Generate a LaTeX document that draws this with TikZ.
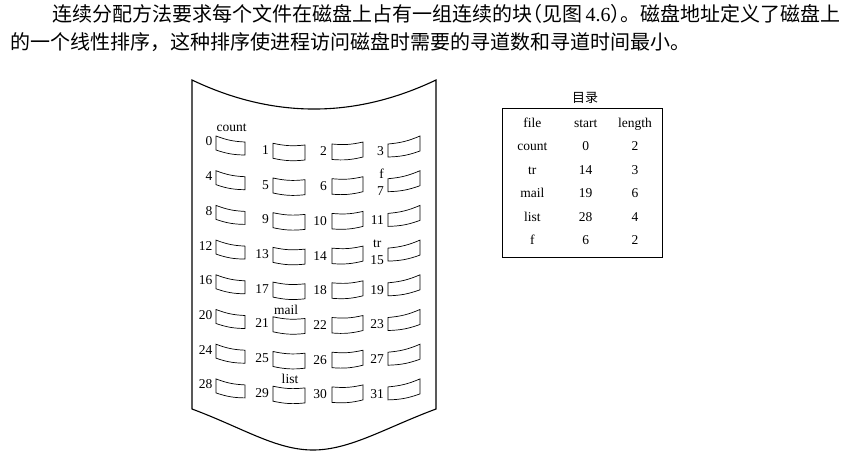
\documentclass[tikz,border=0pt]{standalone}
\usepackage{fontspec}
\setmainfont{Liberation Serif}
\newfontfamily\cjk{Noto Sans CJK SC}
\begin{document}
\begin{tikzpicture}[x=1pt,y=-1pt,
  blk/.style={draw,line width=0.7pt},
  lbl/.style={font=\fontsize{13.5}{13.5}\selectfont,inner sep=0pt},
  cell/.style={font=\fontsize{13.5}{13.5}\selectfont,inner sep=0pt,text height=9pt,text depth=2.8pt},
  para/.style={font=\cjk\fontsize{20}{20}\selectfont,inner sep=0pt,anchor=base west}]
\useasboundingbox (0,0) rectangle (855,453);
% paragraph
\node[para] (line1) at (52,21.5) {连续分配方法要求每个文件在磁盘上占有一组连续的块\makebox[0.5em][r]{（}见图\,{\rmfamily 4.6}\makebox[0.5em][l]{）}。磁盘地址定义了磁盘上};
\node[para] (line2) at (10,49.5) {的一个线性排序，这种排序使进程访问磁盘时需要的寻道数和寻道时间最小。};
% disk surface
\draw[line width=1.1pt] (192,80) .. controls (273.3,118.7) and (354.7,118.7) .. (436,80)
  -- (436,409) .. controls (385,428) and (350,450) .. (313,450)
  .. controls (276,450) and (243,428) .. (192,409) -- cycle;
% blocks
\foreach \c/\xa/\xb/\ytl/\ytr/\ybr/\ybl/\lx/\ly in
  {0/216/245/136/142/155/150/212.5/141.5,
   1/273/305/143.3/145/160/158.3/269/150,
   2/332/363/144/142/157/159.5/327/151.5,
   3/388/420/144/136/151/157/384/151}{
  \foreach \r in {0,...,7}{
    \pgfmathsetmacro\dy{34.7*\r}
    \pgfmathtruncatemacro\n{4*\r+\c}
    \pgfmathsetmacro\sh{ifthenelse(or(\n==7,\n==15),5,0)}
    \draw[blk] (\xa,\ytl+\dy) to[bend right=9] (\xb,\ytr+\dy) -- (\xb,\ybr+\dy)
      to[bend left=9] (\xa,\ybl+\dy) -- cycle;
    \node[lbl,anchor=east] (n\n) at (\lx,\ly+\dy+\sh) {\n};
  }
}
% file names on disk
\node[lbl] (dcount) at (231.7,127.3) {count};
\node[lbl] (df) at (381.7,173.3) {f};
\node[lbl] (dtr) at (377.3,244) {tr};
\node[lbl] (dmail) at (286,310) {mail};
\node[lbl] (dlist) at (290,379) {list};
% directory
\node[font=\cjk\fontsize{13}{13}\selectfont,inner sep=0pt] (dirtitle) at (585,97.5) {目录};
\node[draw,line width=1.1pt,minimum width=160pt,minimum height=149pt,inner sep=0pt,anchor=north west] (dir) at (502,108) {};
\foreach \i/\a/\b/\cc in {0/file/start/length,1/count/0/2,2/tr/14/3,3/mail/19/6,4/list/28/4,5/f/6/2}{
  \pgfmathsetmacro\yy{124+23.5*\i}
  \node[cell] (ta\i) at (532.3,\yy) {\a};
  \node[cell] (tb\i) at (585.7,\yy) {\b};
  \node[cell] (tc\i) at (635,\yy) {\cc};
}
\end{tikzpicture}
\end{document}
